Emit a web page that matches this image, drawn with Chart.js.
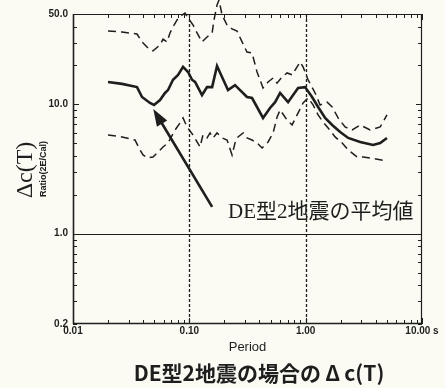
<!DOCTYPE html>
<html>
<head>
<meta charset="utf-8">
<script src="https://cdn.jsdelivr.net/npm/chart.js@4.4.1/dist/chart.umd.min.js"></script>
<style>
  html, body { margin: 0; padding: 0; background: #fbfbf4; }
  #wrap { width: 445px; height: 388px; }
</style>
</head>
<body>
<div id="wrap"><canvas id="c" width="445" height="388"></canvas></div>
<script>
// Mean ratio Δc(T) for DE-type two-earthquake records, with upper / lower envelope
const periodMean = [0.020,0.0264,0.0355,0.0392,0.0459,0.0497,0.056,0.0618,0.0656,0.0724,0.080,0.0883,0.0975,0.1055,0.112,0.1285,0.142,0.157,0.173,0.191,0.215,0.247,0.273,0.313,0.346,0.430,0.494,0.546,0.603,0.706,0.780,0.861,0.988,1.135,1.279,1.47,1.69,1.98,2.32,2.94,3.80,4.37,5.0];
const ratioMean  = [14.9,14.4,13.6,11.4,10.25,9.9,10.8,12.25,12.9,15.5,16.9,19.5,17.8,15.5,14.9,11.8,13.6,13.6,19.8,16.3,12.9,14.1,12.9,11.4,11.2,7.85,9.38,10.4,12.25,10.4,11.8,13.4,13.6,11.4,9.55,7.85,6.93,6.12,5.5,5.12,4.85,5.03,5.5];

const periodUpper = [0.020,0.0264,0.0355,0.0392,0.0441,0.0487,0.056,0.0594,0.0643,0.0682,0.0724,0.0784,0.0866,0.0918,0.0975,0.1076,0.1165,0.1285,0.142,0.157,0.163,0.173,0.180,0.191,0.211,0.233,0.257,0.284,0.313,0.346,0.382,0.430,0.475,0.525,0.568,0.627,0.692,0.764,0.844,0.895,0.950,1.049,1.205,1.33,1.53,1.69,1.90,2.18,2.51,2.94,3.58,4.37,5.0];
const ratioUpper  = [36.9,36.3,35.0,30.4,27.3,25.9,28.8,32.0,30.4,35.7,39.7,45.0,49.1,50.9,46.6,41.1,35.7,30.4,33.2,35.7,45.0,58.7,64.2,49.1,41.1,38.3,36.9,30.4,25.4,24.96,17.8,13.4,14.9,16.0,14.6,16.3,17.5,16.9,19.5,21.3,19.5,15.5,12.25,9.9,10.4,9.55,7.85,6.69,6.34,6.93,6.34,6.69,8.28];

const periodLower = [0.020,0.0264,0.0341,0.0377,0.040,0.0441,0.0487,0.0538,0.0594,0.0656,0.0754,0.0832,0.0883,0.0955,0.1076,0.1236,0.131,0.142,0.1507,0.160,0.173,0.191,0.211,0.233,0.247,0.262,0.290,0.313,0.346,0.382,0.422,0.475,0.525,0.568,0.603,0.692,0.764,0.861,0.950,1.049,1.158,1.279,1.41,1.56,1.79,2.06,2.32,2.77,3.12,3.58,5.0];
const ratioLower  = [5.80,5.60,5.30,4.44,4.06,3.85,3.92,4.28,4.68,5.03,6.34,7.18,7.85,6.69,5.80,4.68,5.80,5.50,6.01,5.50,6.01,5.50,5.30,4.06,5.03,5.60,6.01,5.50,5.30,5.03,4.60,5.12,6.01,7.99,9.06,7.57,6.93,8.58,10.25,11.2,9.9,8.28,7.31,6.57,5.60,5.03,4.44,3.92,3.92,3.85,3.65];

// Axis tick labels
const xLabelValues = [0.01, 0.1, 1, 10];
const xLabels      = ['0.01', '0.10', '1.00', '10.00 s'];
const yLabelValues = [0.2, 1, 10, 50];
const yLabels      = ['0.2', '1.0', '10.0', '50.0'];

// Reference lines
const xRefLines = [0.1, 1];
const yRefLines = [1];

// Arrow annotation pointing at the mean curve (data coordinates)
const noteTip   = [0.049, 9.2];
const noteTail  = [0.157, 1.61];
const noteAt    = [0.215, 1.47];
const noteText  = 'DE型2地震の平均値';

const X_MIN = 0.01, X_MAX = 10, Y_MIN = 0.2, Y_MAX = 50;

function logTicks(min, max) {
  const out = [];
  for (let e = Math.floor(Math.log10(min)); e <= Math.ceil(Math.log10(max)); e++) {
    for (let m = 1; m <= 9; m++) {
      const v = +(m * Math.pow(10, e)).toPrecision(6);
      if (v >= min * 0.9999 && v <= max * 1.0001) out.push(v);
    }
  }
  return out;
}
function near(a, b) { return Math.abs(a - b) <= 1e-6 * Math.abs(b); }
function labelFor(v, vals, labels) {
  for (let i = 0; i < vals.length; i++) if (near(v, vals[i])) return labels[i];
  return '';
}
function isDecade(v) { const l = Math.log10(v); return Math.abs(l - Math.round(l)) < 1e-6; }

const xTickValues = logTicks(X_MIN, X_MAX);
const yTickValues = logTicks(Y_MIN, Y_MAX);

function pts(xs, ys) { return xs.map((x, i) => ({ x: x, y: ys[i] })); }

const INK = '#1e1e1e';

const framePlugin = {
  id: 'frame',
  beforeDraw(chart) {
    const c = chart.ctx;
    c.save();
    c.fillStyle = '#fbfbf4';
    c.fillRect(0, 0, chart.width, chart.height);
    c.restore();
  },
  beforeDatasetsDraw(chart) {
    const { ctx: c, chartArea: a, scales: { x, y } } = chart;
    c.save();
    // dashed verticals
    c.strokeStyle = INK;
    c.lineWidth = 1.3;
    c.setLineDash([3, 2]);
    xRefLines.forEach(v => {
      const px = Math.round(x.getPixelForValue(v)) + 0.5;
      c.beginPath(); c.moveTo(px, a.top); c.lineTo(px, a.bottom); c.stroke();
    });
    c.setLineDash([]);
    c.lineWidth = 1;
    yRefLines.forEach(v => {
      const py = Math.round(y.getPixelForValue(v)) + 0.5;
      c.beginPath(); c.moveTo(a.left, py); c.lineTo(a.right, py); c.stroke();
    });
    c.restore();
  },
  afterDatasetsDraw(chart) {
    const { ctx: c, chartArea: a, scales: { x, y } } = chart;
    c.save();
    c.strokeStyle = INK;
    // frame
    c.lineWidth = 1.2;
    c.beginPath();
    c.moveTo(a.left, a.top + 0.5); c.lineTo(a.right - 0.5, a.top + 0.5); c.lineTo(a.right - 0.5, a.bottom);
    c.stroke();
    c.lineWidth = 1.6;
    c.beginPath();
    c.moveTo(a.left + 0.5, a.top); c.lineTo(a.left + 0.5, a.bottom - 0.5); c.lineTo(a.right, a.bottom - 0.5);
    c.stroke();
    // inward ticks on all four sides
    c.lineWidth = 1;
    xTickValues.forEach(v => {
      const px = Math.round(x.getPixelForValue(v)) + 0.5;
      const len = isDecade(v) ? 6 : 4;
      c.beginPath();
      c.moveTo(px, a.bottom); c.lineTo(px, a.bottom - len);
      c.moveTo(px, a.top); c.lineTo(px, a.top + len);
      c.stroke();
    });
    yTickValues.forEach(v => {
      const py = Math.round(y.getPixelForValue(v)) + 0.5;
      const len = isDecade(v) ? 6 : 4;
      c.beginPath();
      c.moveTo(a.left, py); c.lineTo(a.left + len, py);
      c.moveTo(a.right, py); c.lineTo(a.right - len, py);
      c.stroke();
    });
    c.restore();
  },
  afterDraw(chart) {
    const { ctx: c, scales: { x, y } } = chart;
    c.save();
    c.fillStyle = INK;
    c.strokeStyle = INK;

    // y-axis titles (rotated)
    c.save();
    c.translate(26, 170);
    c.rotate(-Math.PI / 2);
    c.textAlign = 'center';
    c.textBaseline = 'middle';
    c.font = '24px "Liberation Serif", "DejaVu Serif", serif';
    c.fillText('Δc(T)', 0, 0);
    c.restore();

    c.save();
    c.translate(44, 169);
    c.rotate(-Math.PI / 2);
    c.textAlign = 'center';
    c.textBaseline = 'middle';
    c.font = 'bold 9px "Liberation Sans", Arial, sans-serif';
    c.fillText('Ratio(2E/Cal)', 0, 0);
    c.restore();

    // caption below the plot
    c.textAlign = 'center';
    c.textBaseline = 'middle';
    c.font = 'bold 21px "Noto Sans CJK JP", sans-serif';
    c.fillText('DE型2地震の場合の\u2009Δ\u2009c(T)', 259, 373);

    // arrow annotation
    const tx = x.getPixelForValue(noteTip[0]), ty = y.getPixelForValue(noteTip[1]);
    const sx = x.getPixelForValue(noteTail[0]), sy = y.getPixelForValue(noteTail[1]);
    const ang = Math.atan2(ty - sy, tx - sx);
    const headLen = 17, headHalf = 6;
    const bx = tx - headLen * Math.cos(ang), by = ty - headLen * Math.sin(ang);
    c.lineWidth = 2.6;
    c.beginPath(); c.moveTo(sx, sy); c.lineTo(bx + 3 * Math.cos(ang), by + 3 * Math.sin(ang)); c.stroke();
    c.beginPath();
    c.moveTo(tx, ty);
    c.lineTo(bx + headHalf * Math.sin(ang), by - headHalf * Math.cos(ang));
    c.lineTo(bx - headHalf * Math.sin(ang), by + headHalf * Math.cos(ang));
    c.closePath();
    c.fill();

    c.textAlign = 'left';
    c.textBaseline = 'middle';
    c.font = '21px "Liberation Serif", "Noto Sans CJK JP", serif';
    c.fillText(noteText, x.getPixelForValue(noteAt[0]), y.getPixelForValue(noteAt[1]));
    c.restore();
  }
};

const tickFont = { family: '"Liberation Sans", Arial, sans-serif', size: 10, weight: 'bold' };

new Chart(document.getElementById('c').getContext('2d'), {
  type: 'line',
  data: {
    datasets: [
      { label: 'mean', data: pts(periodMean, ratioMean), borderColor: INK, borderWidth: 2.6, pointRadius: 0, tension: 0, order: 0 },
      { label: 'upper', data: pts(periodUpper, ratioUpper), borderColor: INK, borderWidth: 1.5, borderDash: [8, 5], pointRadius: 0, tension: 0, clip: false, order: 1 },
      { label: 'lower', data: pts(periodLower, ratioLower), borderColor: INK, borderWidth: 1.5, borderDash: [8, 5], pointRadius: 0, tension: 0, order: 2 }
    ]
  },
  options: {
    responsive: false,
    animation: false,
    devicePixelRatio: 1,
    layout: { padding: { top: 14, right: 23, left: 0, bottom: 0 } },
    plugins: { legend: { display: false }, tooltip: { enabled: false } },
    scales: {
      x: {
        type: 'logarithmic', min: X_MIN, max: X_MAX,
        afterBuildTicks: s => { s.ticks = xTickValues.map(v => ({ value: v })); },
        afterFit: s => { s.height = 64; },
        grid: { display: false, drawTicks: false },
        border: { display: false },
        ticks: {
          autoSkip: false, maxRotation: 0, minRotation: 0, padding: 1,
          color: INK, font: tickFont,
          callback: v => labelFor(v, xLabelValues, xLabels)
        },
        title: {
          display: true, text: 'Period', color: INK,
          font: { family: '"Liberation Sans", Arial, sans-serif', size: 13 },
          padding: { top: 0, bottom: 33 }
        }
      },
      y: {
        type: 'logarithmic', min: Y_MIN, max: Y_MAX,
        afterBuildTicks: s => { s.ticks = yTickValues.map(v => ({ value: v })); },
        afterFit: s => { s.width = 73; },
        grid: { display: false, drawTicks: false },
        border: { display: false },
        ticks: {
          autoSkip: false, padding: 5,
          color: INK, font: tickFont,
          callback: v => labelFor(v, yLabelValues, yLabels)
        }
      }
    }
  },
  plugins: [framePlugin]
});
</script>
</body>
</html>
